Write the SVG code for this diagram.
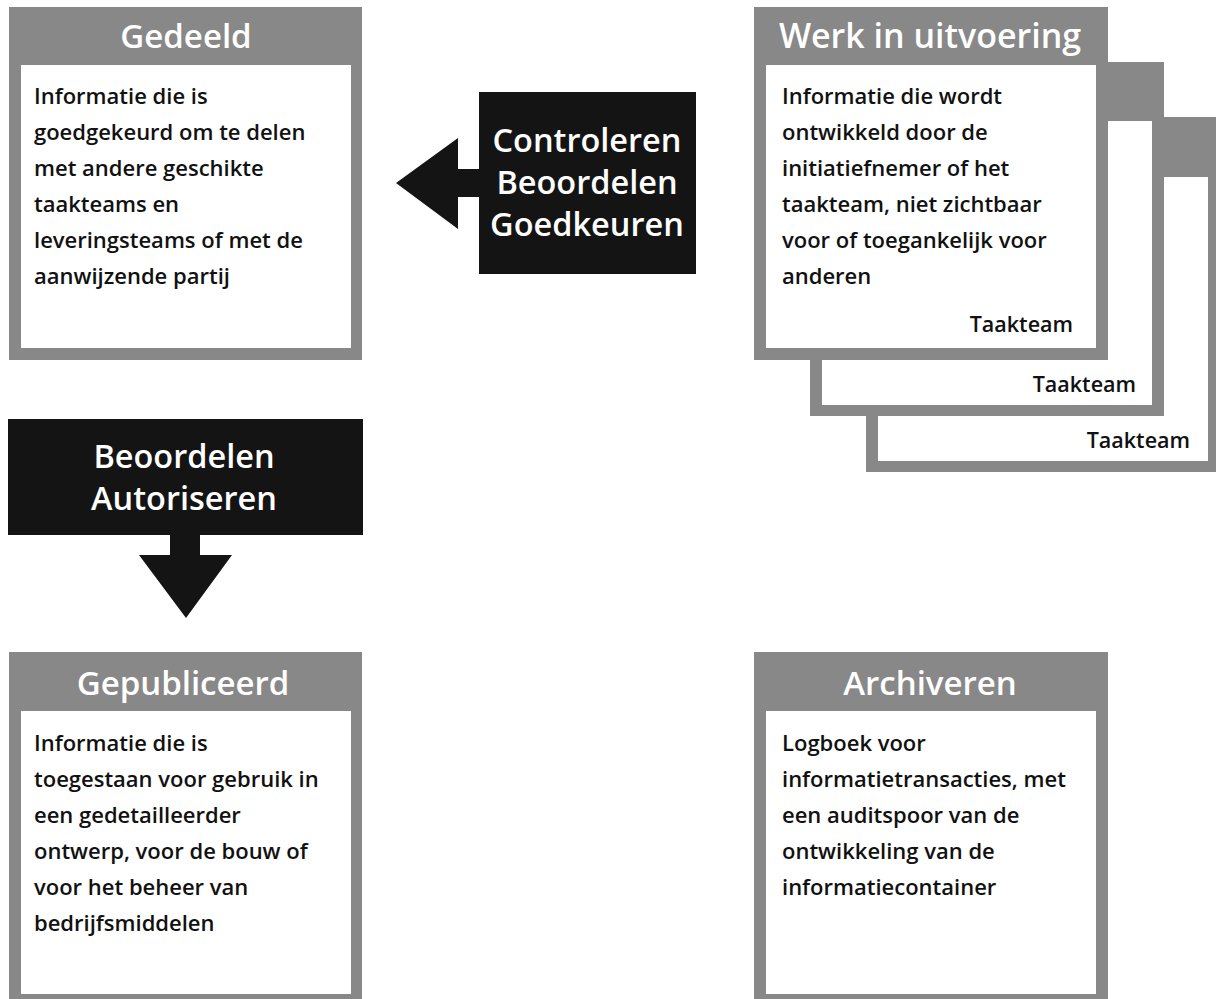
<svg xmlns="http://www.w3.org/2000/svg" width="1216" height="999" viewBox="0 0 1216 999">
<style>
.frame{fill:#888888}
.inner{fill:#ffffff}
.blk{fill:#141414}
.hdr{font-family:"Open Sans","Noto Sans",sans-serif;font-weight:600;font-size:33px;fill:#ffffff;text-anchor:middle}
.act{font-family:"Open Sans","Noto Sans",sans-serif;font-weight:600;font-size:32.5px;fill:#ffffff;text-anchor:middle}
.body{font-family:"Open Sans","Noto Sans",sans-serif;font-weight:600;font-size:22px;fill:#111111}
.tag{font-family:"Open Sans","Noto Sans",sans-serif;font-weight:600;font-size:21.5px;fill:#111111;text-anchor:end}
</style>
<rect width="1216" height="999" fill="#ffffff"/>

<g id="gedeeld">
<rect class="frame" x="9" y="7" width="353" height="353"/>
<rect class="inner" x="21" y="65" width="330" height="283"/>
<text class="hdr" x="186" y="48">Gedeeld</text>
<text class="body" x="34" y="104">Informatie die is</text>
<text class="body" x="34" y="140">goedgekeurd om te delen</text>
<text class="body" x="34" y="176">met andere geschikte</text>
<text class="body" x="34" y="212">taakteams en</text>
<text class="body" x="34" y="248">leveringsteams of met de</text>
<text class="body" x="34" y="284">aanwijzende partij</text>
</g>

<g id="werk-in-uitvoering">
<rect class="frame" x="866" y="117" width="354" height="355"/>
<rect class="inner" x="878" y="177" width="330" height="284"/>
<text class="tag" x="1190" y="448">Taakteam</text>
<rect class="frame" x="810" y="62" width="354" height="354"/>
<rect class="inner" x="822" y="121" width="330" height="284"/>
<text class="tag" x="1136" y="392">Taakteam</text>
<rect class="frame" x="754" y="7" width="354" height="353"/>
<rect class="inner" x="766" y="65" width="330" height="283"/>
<text class="hdr" x="930" y="48" style="font-size:34px">Werk in uitvoering</text>
<text class="body" x="782" y="104">Informatie die wordt</text>
<text class="body" x="782" y="140">ontwikkeld door de</text>
<text class="body" x="782" y="176">initiatiefnemer of het</text>
<text class="body" x="782" y="212">taakteam, niet zichtbaar</text>
<text class="body" x="782" y="248">voor of toegankelijk voor</text>
<text class="body" x="782" y="284">anderen</text>
<text class="tag" x="1073" y="332">Taakteam</text>
</g>

<g id="gepubliceerd">
<rect class="frame" x="9" y="652" width="353" height="353"/>
<rect class="inner" x="21" y="711" width="330" height="283"/>
<text class="hdr" x="183" y="695">Gepubliceerd</text>
<text class="body" x="34" y="751">Informatie die is</text>
<text class="body" x="34" y="787">toegestaan voor gebruik in</text>
<text class="body" x="34" y="823">een gedetailleerder</text>
<text class="body" x="34" y="859">ontwerp, voor de bouw of</text>
<text class="body" x="34" y="895">voor het beheer van</text>
<text class="body" x="34" y="931">bedrijfsmiddelen</text>
</g>

<g id="archiveren">
<rect class="frame" x="754" y="652" width="354" height="353"/>
<rect class="inner" x="766" y="711" width="330" height="283"/>
<text class="hdr" x="930" y="695">Archiveren</text>
<text class="body" x="782" y="751">Logboek voor</text>
<text class="body" x="782" y="787">informatietransacties, met</text>
<text class="body" x="782" y="823">een auditspoor van de</text>
<text class="body" x="782" y="859">ontwikkeling van de</text>
<text class="body" x="782" y="895">informatiecontainer</text>
</g>

<g id="connectors">
<path class="blk" d="M396,183 L458,138 L458,169 L480,169 L480,197 L458,197 L458,229 Z"/>
<path class="blk" d="M170,534 L200,534 L200,555 L232,555 L186,618 L139,555 L170,555 Z"/>
</g>

<g id="controleren">
<rect class="blk" x="479" y="92" width="217" height="182"/>
<text class="act" x="587" y="152">Controleren</text>
<text class="act" x="587" y="194">Beoordelen</text>
<text class="act" x="587" y="236">Goedkeuren</text>
</g>

<g id="beoordelen-autoriseren">
<rect class="blk" x="8" y="419" width="355" height="116"/>
<text class="act" x="184" y="468">Beoordelen</text>
<text class="act" x="184" y="510">Autoriseren</text>
</g>
</svg>
